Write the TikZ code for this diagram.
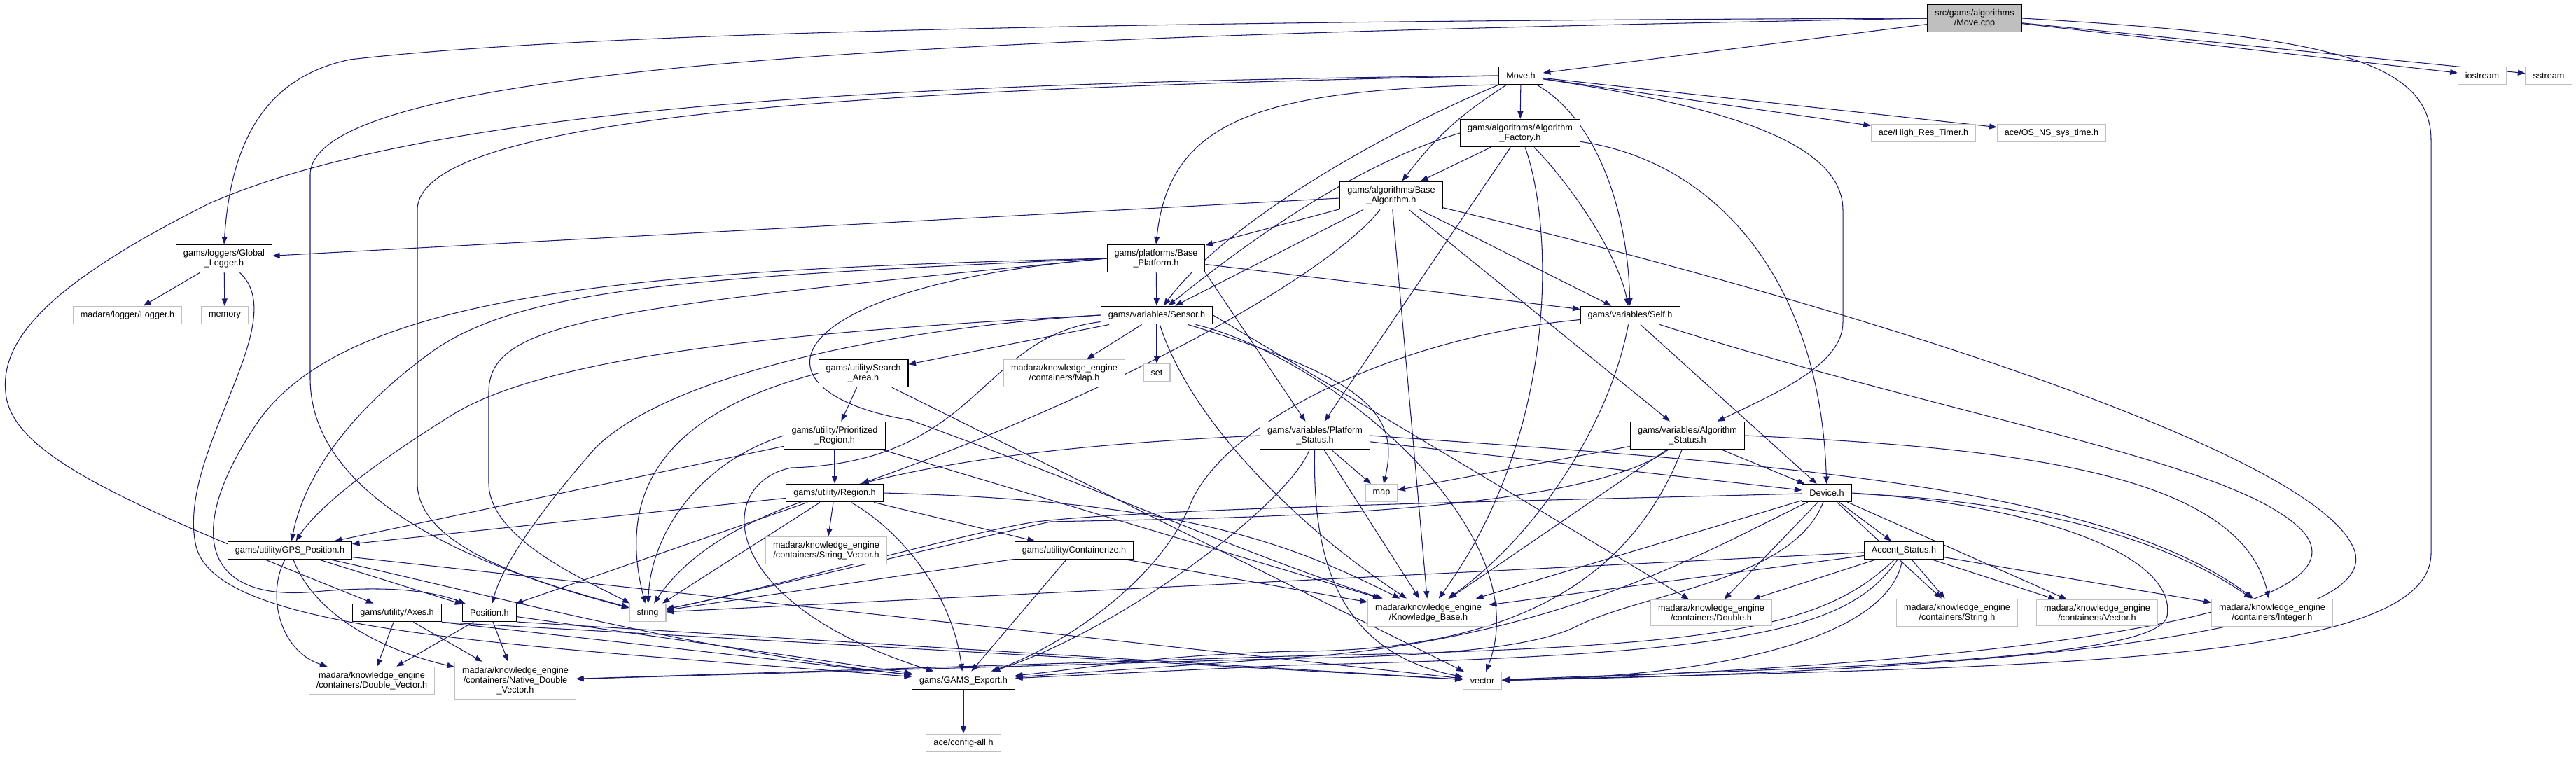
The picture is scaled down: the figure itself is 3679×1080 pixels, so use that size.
\documentclass[tikz,border=0pt]{standalone}
\usepackage{fontspec}
\setmainfont{Liberation Sans}
\usetikzlibrary{arrows.meta}
\usetikzlibrary{backgrounds}
\definecolor{edgeblue}{RGB}{25,25,112}
\definecolor{extgrey}{RGB}{191,191,191}
\begin{document}
\begin{tikzpicture}[
  x=0.02cm, y=-0.02cm,
  font=\fontsize{7.2}{7.9}\selectfont,
  file/.style={draw=black, fill=white, line width=0.6pt, align=center,
               inner xsep=6pt, inner ysep=4pt, minimum height=14.2pt},
  ext/.style={file, draw=extgrey},
  root/.style={file, fill=extgrey},
  inc/.style={-{Triangle[length=6pt,width=4.6pt]}, draw=edgeblue, line width=0.6pt}
]
\useasboundingbox (0,0) rectangle (3679,1080);
% files, rank by rank
\node[root] (cpp) at (2820,26) {src/gams/algorithms\\/Move.cpp};
\node[file] (movh) at (2172,108) {Move.h};
\node[ext] (iostream) at (3545,108) {iostream};
\node[ext] (sstream) at (3640,108) {sstream};
\node[file] (fact) at (2171,190) {gams/algorithms/Algorithm\\\_Factory.h};
\node[ext] (hrt) at (2747,190) {ace/High\_Res\_Timer.h};
\node[ext] (osns) at (2930,190) {ace/OS\_NS\_sys\_time.h};
\node[file] (basealg) at (1987,279) {gams/algorithms/Base\\\_Algorithm.h};
\node[file] (glog) at (320,369) {gams/loggers/Global\\\_Logger.h};
\node[file] (baseplat) at (1651,369) {gams/platforms/Base\\\_Platform.h};
\node[ext] (loggerh) at (182,450) {madara/logger/Logger.h};
\node[ext] (memory) at (321,450) {memory};
\node[file] (sensor) at (1652,450) {gams/variables/Sensor.h};
\node[file] (self) at (2328,450) {gams/variables/Self.h};
\node[file] (searcharea) at (1233,533) {gams/utility/Search\\\_Area.h};
\node[ext] (mapcont) at (1520,533) {madara/knowledge\_engine\\/containers/Map.h};
\node[ext] (sethdr) at (1652,532) {set};
\node[file] (prioreg) at (1192,622) {gams/utility/Prioritized\\\_Region.h};
\node[file] (platstat) at (1878,622) {gams/variables/Platform\\\_Status.h};
\node[file] (algstat) at (2410,622) {gams/variables/Algorithm\\\_Status.h};
\node[file] (region) at (1192,704) {gams/utility/Region.h};
\node[ext] (maphdr) at (1973,704) {map};
\node[file] (device) at (2609,704) {Device.h};
\node[file] (gps) at (414,786) {gams/utility/GPS\_Position.h};
\node[ext] (strvec) at (1180,786) {madara/knowledge\_engine\\/containers/String\_Vector.h};
\node[file] (contain) at (1534,786) {gams/utility/Containerize.h};
\node[file] (accent) at (2719,786) {Accent\_Status.h};
\node[file] (axes) at (567,875) {gams/utility/Axes.h};
\node[file] (position) at (699,875) {Position.h};
\node[ext] (strhdr) at (925,875) {string};
\node[ext] (kb) at (2040,875) {madara/knowledge\_engine\\/Knowledge\_Base.h};
\node[ext] (double) at (2444,875) {madara/knowledge\_engine\\/containers/Double.h};
\node[ext] (stringc) at (2795,875) {madara/knowledge\_engine\\/containers/String.h};
\node[ext] (vectorc) at (2995,875) {madara/knowledge\_engine\\/containers/Vector.h};
\node[ext] (integer) at (3245,875) {madara/knowledge\_engine\\/containers/Integer.h};
\node[ext] (dblvec) at (531,972) {madara/knowledge\_engine\\/containers/Double\_Vector.h};
\node[ext] (natdbl) at (736,972) {madara/knowledge\_engine\\/containers/Native\_Double\\\_Vector.h};
\node[file] (export) at (1376,972) {gams/GAMS\_Export.h};
\node[ext] (vechdr) at (2117,972) {vector};
\node[ext] (config) at (1376,1061) {ace/config-all.h};

\begin{scope}[on background layer]
\fill[white] (0,0) rectangle (3679,1080);
% Move.cpp
\draw[inc] (cpp) -- (movh);
\draw[inc] (cpp) -- (iostream); \draw[inc] (cpp) -- (sstream);
\draw[inc] (cpp.west) .. controls (1500,30) and (800,50) .. (500,85)
  .. controls (380,110) and (330,200) .. (glog.north);
\draw[inc] (cpp.west) .. controls (1500,50) and (443,80) .. (443,250) -- (443,540)
  .. controls (443,680) and (600,790) .. (strhdr);
\draw[inc] (cpp.east) .. controls (3300,50) and (3472,80) .. (3472,200) -- (3472,790)
  .. controls (3472,950) and (2900,952) .. (vechdr);
% Move.h
\draw[inc] (movh) -- (fact);
\draw[inc] (movh) to[bend right=10] (basealg);
\draw[inc] (movh.south west) .. controls (1800,128) and (1670,170) .. (baseplat.north);
\draw[inc] (movh) .. controls (1950,200) and (1740,330) .. (sensor);
\draw[inc] (movh) .. controls (2280,170) and (2325,300) .. (self);
\draw[inc] (movh) .. controls (2450,150) and (2632,200) .. (2632,300) -- (2632,460)
  .. controls (2632,520) and (2540,560) .. (algstat);
\draw[inc] (movh) -- (hrt); \draw[inc] (movh) -- (osns);
\draw[inc] (movh.west) .. controls (1200,118) and (600,160) .. (300,290)
  .. controls (80,400) and (0,480) .. (8,560) .. controls (15,650) and (180,720) .. (axes);
\draw[inc] (movh.west) .. controls (1400,125) and (596,150) .. (596,300) -- (596,690)
  .. controls (596,790) and (800,840) .. (strhdr);
% Algorithm_Factory.h
\draw[inc] (fact) -- (basealg);
\draw[inc] (fact.west) .. controls (1950,230) and (1800,330) .. (sensor);
\draw[inc] (fact) .. controls (2240,260) and (2310,360) .. (self);
\draw[inc] (fact) -- (platstat);
\draw[inc] (fact) .. controls (2220,330) and (2225,620) .. (kb);
\draw[inc] (fact) .. controls (2450,230) and (2600,400) .. (device);
% Base_Algorithm.h
\draw[inc] (basealg) -- (glog);
\draw[inc] (basealg) -- (baseplat);
\draw[inc] (basealg) -- (sensor);
\draw[inc] (basealg) -- (self);
\draw[inc] (basealg) -- (algstat);
\draw[inc] (basealg) .. controls (1900,390) and (1600,560) .. (region);
\draw[inc] (basealg) -- (kb);
\draw[inc] (basealg) .. controls (2700,450) and (3300,650) .. (3360,780)
  .. controls (3420,900) and (2900,958) .. (vechdr);
% Base_Platform.h
\draw[inc] (baseplat) -- (sensor);
\draw[inc] (baseplat) -- (self);
\draw[inc] (baseplat.south east) -- (platstat);
\draw[inc] (baseplat.west) .. controls (1000,395) and (750,410) .. (620,500)
  .. controls (480,600) and (430,700) .. (gps);
\draw[inc] (baseplat.west) .. controls (900,385) and (500,420) .. (370,600)
  .. controls (260,760) and (290,860) .. (450,845) .. controls (560,835) and (620,845) .. (position);
\draw[inc] (baseplat.west) .. controls (850,440) and (698,460) .. (698,560) -- (698,690)
  .. controls (698,770) and (840,830) .. (strhdr);
\draw[inc] (baseplat.west) .. controls (1100,410) and (1060,560) .. (1300,600)
  .. controls (1550,690) and (1800,800) .. (kb);
% Sensor.h
\draw[inc] (sensor) -- (searcharea);
\draw[inc] (sensor) -- (mapcont);
\draw[inc] (sensor) -- (sethdr);
\draw[inc] (sensor.west) .. controls (1200,470) and (800,500) .. (650,590)
  .. controls (520,670) and (450,730) .. (gps);
\draw[inc] (sensor.west) .. controls (1250,470) and (950,540) .. (850,640)
  .. controls (780,720) and (720,800) .. (position);
\draw[inc] (sensor) .. controls (1400,480) and (1400,660) .. (1130,668)
  .. controls (1020,690) and (1020,860) .. (export);
\draw[inc] (sensor) .. controls (1700,600) and (1850,750) .. (kb);
\draw[inc] (sensor) .. controls (1950,540) and (2000,590) .. (maphdr);
\draw[inc] (sensor.east) -- (double);
\draw[inc] (sensor) .. controls (1900,510) and (2200,760) .. (vechdr);
% Self.h
\draw[inc] (self) .. controls (2000,480) and (1750,600) .. (1700,720)
  .. controls (1650,840) and (1500,930) .. (export);
\draw[inc] (self) .. controls (2300,600) and (2200,760) .. (kb);
\draw[inc] (self) -- (device);
\draw[inc] (self) .. controls (2800,600) and (3200,660) .. (3290,760)
  .. controls (3390,880) and (2850,950) .. (vechdr);
% Platform_Status.h
\draw[inc] (platstat.west) .. controls (1400,640) and (1050,690) .. (strhdr);
\draw[inc] (platstat) -- (maphdr);
\draw[inc] (platstat) -- (device);
\draw[inc] (platstat) -- (kb);
\draw[inc] (platstat) .. controls (1875,780) and (1900,930) .. (vechdr);
\draw[inc] (platstat) .. controls (1840,720) and (1600,900) .. (export);
\draw[inc] (platstat.east) .. controls (2500,660) and (3000,690) .. (integer);
% Algorithm_Status.h
\draw[inc] (algstat) -- (maphdr);
\draw[inc] (algstat) .. controls (2250,740) and (1700,740) .. (1500,745)
  .. controls (1300,790) and (1050,850) .. (strhdr);
\draw[inc] (algstat) -- (kb);
\draw[inc] (algstat) .. controls (2340,800) and (2200,930) .. (1850,930)
  .. controls (1650,935) and (1550,955) .. (export);
\draw[inc] (algstat) -- (device);
\draw[inc] (algstat.east) .. controls (2900,640) and (3200,680) .. (integer);
% Device.h
\draw[inc] (device) -- (accent);
\draw[inc] (device) -- (kb);
\draw[inc] (device) .. controls (2450,780) and (2250,900) .. (1900,935)
  .. controls (1700,950) and (1550,960) .. (export);
\draw[inc] (device) .. controls (2560,830) and (2350,845) .. (2250,895)
  .. controls (2180,930) and (2000,938) .. (1850,940) -- (natdbl);
\draw[inc] (device) -- (double);
\draw[inc] (device) -- (stringc);
\draw[inc] (device) -- (vectorc);
\draw[inc] (device) .. controls (2800,710) and (3050,740) .. (integer);
\draw[inc] (device) .. controls (2200,715) and (1650,725) .. (1480,745)
  .. controls (1380,760) and (1100,840) .. (strhdr);
\draw[inc] (device.east) .. controls (2900,720) and (3110,790) .. (3095,880)
  .. controls (3080,950) and (2500,955) .. (vechdr);
% Accent_Status.h
\draw[inc] (accent) -- (strhdr);
\draw[inc] (accent) -- (kb);
\draw[inc] (accent) -- (double);
\draw[inc] (accent) .. controls (2600,900) and (2450,925) .. (1840,937) -- (natdbl);
\draw[inc] (accent) .. controls (2640,900) and (2500,935) .. (1840,950) -- (export);
\draw[inc] (accent) .. controls (2700,900) and (2500,965) .. (vechdr);
\draw[inc] (accent) -- (stringc);
\draw[inc] (accent) -- (vectorc);
\draw[inc] (accent) -- (integer);
% Global_Logger.h
\draw[inc] (glog) -- (loggerh); \draw[inc] (glog) -- (memory);
\draw[inc] (glog) .. controls (420,460) and (250,650) .. (280,780)
  .. controls (310,900) and (700,920) .. (export);
% Search_Area.h, Prioritized_Region.h
\draw[inc] (searcharea) -- (prioreg);
\draw[inc] (searcharea.west) .. controls (950,590) and (880,700) .. (strhdr);
\draw[inc] (searcharea) -- (vechdr);
\draw[inc] (prioreg) -- (region);
\draw[inc] (prioreg) -- (gps);
\draw[inc] (prioreg.west) .. controls (1000,660) and (930,760) .. (strhdr);
\draw[inc] (prioreg) -- (kb);
% Region.h
\draw[inc] (region) -- (gps);
\draw[inc] (region) -- (position);
\draw[inc] (region) -- (strhdr);
\draw[inc] (region) -- (strvec);
\draw[inc] (region) -- (contain);
\draw[inc] (region) .. controls (1290,760) and (1360,850) .. (export);
\draw[inc] (region.east) .. controls (1700,715) and (1850,780) .. (kb);
% Containerize.h
\draw[inc] (contain) -- (strhdr);
\draw[inc] (contain) -- (export);
\draw[inc] (contain) -- (kb);
% GPS_Position.h, Position.h, Axes.h
\draw[inc] (gps) -- (position);
\draw[inc] (gps) .. controls (380,850) and (400,930) .. (dblvec);
\draw[inc] (gps) .. controls (450,880) and (550,930) .. (natdbl);
\draw[inc] (gps) .. controls (700,850) and (1000,930) .. (export);
\draw[inc] (gps) -- (vechdr);
\draw[inc] (position) -- (dblvec);
\draw[inc] (position) -- (natdbl);
\draw[inc] (position) -- (export);
\draw[inc] (position.south east) -- (vechdr);
\draw[inc] (axes) -- (dblvec);
\draw[inc] (axes) -- (natdbl);
\draw[inc] (axes.south east) -- (export);
\draw[inc] (axes.south east) -- (vechdr);
% GAMS_Export.h
\draw[inc] (export) -- (config);
\end{scope}
\end{tikzpicture}
\end{document}
